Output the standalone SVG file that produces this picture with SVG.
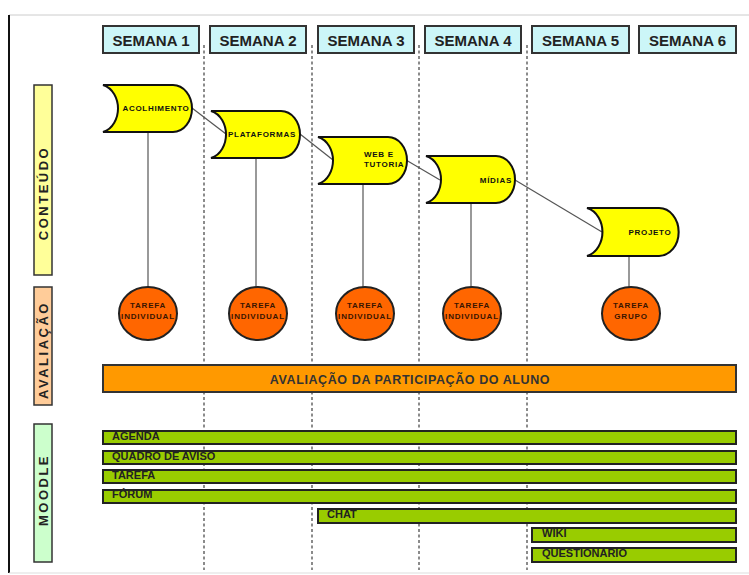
<svg xmlns="http://www.w3.org/2000/svg" width="749" height="575" viewBox="0 0 749 575">
<defs>
<style>
text{font-family:"Liberation Sans",Arial,sans-serif;font-weight:bold}
.hdr{fill:#ccf6f8;stroke:#333;stroke-width:2}
.hdrt{font-size:15px;fill:#222;text-anchor:middle}
.dash{stroke:#666;stroke-width:1.5;stroke-dasharray:3,2.5;fill:none}
.shape{fill:#ffff00;stroke:#111;stroke-width:2}
.st{font-size:8px;fill:#111;letter-spacing:0.7px}
.circ{fill:#ff6600;stroke:#222;stroke-width:2}
.ct{font-size:8px;fill:#3a1500;text-anchor:middle;letter-spacing:0.8px}
.conn{stroke:#555;stroke-width:1.2;fill:none}
.side{stroke:#333;stroke-width:1.5}
.sidet{font-size:13px;fill:#222;text-anchor:middle;letter-spacing:2.5px}
.gbar{fill:#99cc00;stroke:#222;stroke-width:2}
.gt{font-size:11px;fill:#222}
</style>
<path id="doc" d="M0,0 H70 A19,23.5 0 0 1 70,47 H0 C10,44 15,33 15,23.5 C15,14 10,3 0,0 Z"/>
</defs>
<rect x="0" y="0" width="749" height="575" fill="#fff"/>
<g id="frame">
<line x1="9" y1="15" x2="749" y2="15" stroke="#ccc" stroke-width="1"/>
<line x1="9" y1="15" x2="9" y2="573" stroke="#111" stroke-width="2"/>
<line x1="9" y1="573" x2="749" y2="573" stroke="#ddd" stroke-width="1"/>
</g>
<g id="dividers">
<line class="dash" x1="204" y1="45" x2="204" y2="570"/>
<line class="dash" x1="312" y1="45" x2="312" y2="570"/>
<line class="dash" x1="419" y1="45" x2="419" y2="570"/>
<line class="dash" x1="527" y1="45" x2="527" y2="570"/>
</g>
<g id="headers">
<g id="semana1"><rect class="hdr" x="103" y="26" width="96" height="27"/><text class="hdrt" x="151" y="46">SEMANA 1</text></g>
<g id="semana2"><rect class="hdr" x="210" y="26" width="96" height="27"/><text class="hdrt" x="258" y="46">SEMANA 2</text></g>
<g id="semana3"><rect class="hdr" x="318" y="26" width="96" height="27"/><text class="hdrt" x="366" y="46">SEMANA 3</text></g>
<g id="semana4"><rect class="hdr" x="425" y="26" width="96" height="27"/><text class="hdrt" x="473" y="46">SEMANA 4</text></g>
<g id="semana5"><rect class="hdr" x="532" y="26" width="97" height="27"/><text class="hdrt" x="580.5" y="46">SEMANA 5</text></g>
<g id="semana6"><rect class="hdr" x="639" y="26" width="97" height="27"/><text class="hdrt" x="687.5" y="46">SEMANA 6</text></g>
</g>
<g id="side-conteudo"><rect class="side" x="34" y="85" width="18" height="190" fill="#ffff99"/><text class="sidet" transform="translate(48,193) rotate(-90)">CONTEÚDO</text></g>
<g id="side-avaliacao"><rect class="side" x="34" y="287" width="18" height="118" fill="#ffcc99"/><text class="sidet" transform="translate(48,350) rotate(-90)">AVALIAÇÃO</text></g>
<g id="side-moodle"><rect class="side" x="34" y="424" width="18" height="138" fill="#ccffcc"/><text class="sidet" transform="translate(48,490) rotate(-90)">MOODLE</text></g>
<g id="connectors">
<line class="conn" x1="192" y1="108" x2="226" y2="134"/>
<line class="conn" x1="300" y1="134" x2="333" y2="160"/>
<line class="conn" x1="406" y1="160" x2="440" y2="180"/>
<line class="conn" x1="515" y1="180" x2="602" y2="232"/>
<line class="conn" x1="148" y1="132" x2="148" y2="287"/>
<line class="conn" x1="256" y1="157" x2="256" y2="287"/>
<line class="conn" x1="363" y1="183" x2="363" y2="287"/>
<line class="conn" x1="471" y1="203" x2="471" y2="287"/>
<line class="conn" x1="629" y1="256" x2="629" y2="287"/>
</g>
<g id="acolhimento"><use href="#doc" class="shape" transform="translate(103,85)"/><text class="st" x="156" y="111" text-anchor="middle">ACOLHIMENTO</text></g>
<g id="plataformas"><use href="#doc" class="shape" transform="translate(211,111)"/><text class="st" x="262" y="137" text-anchor="middle">PLATAFORMAS</text></g>
<g id="web-tutoria"><use href="#doc" class="shape" transform="translate(318,137)"/><text class="st" x="364" y="157">WEB E</text><text class="st" x="364" y="167">TUTORIA</text></g>
<g id="midias"><use href="#doc" class="shape" transform="translate(426,156)"/><text class="st" x="512" y="183" text-anchor="end">MÍDIAS</text></g>
<g id="projeto"><use href="#doc" class="shape" transform="translate(587,208) scale(1.03,1.02)"/><text class="st" x="650" y="235" text-anchor="middle">PROJETO</text></g>
<g id="tarefa1"><ellipse class="circ" cx="148" cy="313.5" rx="29" ry="26.5"/><text class="ct" x="148" y="307.5">TAREFA</text><text class="ct" x="148" y="318.5">INDIVIDUAL</text></g>
<g id="tarefa2"><ellipse class="circ" cx="258" cy="313.5" rx="29" ry="26.5"/><text class="ct" x="258" y="307.5">TAREFA</text><text class="ct" x="258" y="318.5">INDIVIDUAL</text></g>
<g id="tarefa3"><ellipse class="circ" cx="365" cy="313.5" rx="29" ry="26.5"/><text class="ct" x="365" y="307.5">TAREFA</text><text class="ct" x="365" y="318.5">INDIVIDUAL</text></g>
<g id="tarefa4"><ellipse class="circ" cx="472" cy="313.5" rx="29" ry="26.5"/><text class="ct" x="472" y="307.5">TAREFA</text><text class="ct" x="472" y="318.5">INDIVIDUAL</text></g>
<g id="tarefa5"><ellipse class="circ" cx="631" cy="313.5" rx="29" ry="26.5"/><text class="ct" x="631" y="307.5">TAREFA</text><text class="ct" x="631" y="318.5">GRUPO</text></g>
<g id="participacao"><rect x="103" y="365" width="633" height="27" fill="#ff9900" stroke="#333" stroke-width="2"/><text x="410" y="384" font-size="12.5" fill="#333" text-anchor="middle" letter-spacing="0.6">AVALIAÇÃO DA PARTICIPAÇÃO DO ALUNO</text></g>
<g id="agenda"><rect class="gbar" x="103" y="431" width="633" height="13"/><text class="gt" x="112" y="440">AGENDA</text></g>
<g id="quadro"><rect class="gbar" x="103" y="451" width="633" height="13"/><text class="gt" x="112" y="460">QUADRO DE AVISO</text></g>
<g id="tarefa"><rect class="gbar" x="103" y="470" width="633" height="13"/><text class="gt" x="112" y="479">TAREFA</text></g>
<g id="forum"><rect class="gbar" x="103" y="490" width="633" height="13"/><text class="gt" x="112" y="498">FÓRUM</text></g>
<g id="chat"><rect class="gbar" x="318" y="509" width="418" height="14"/><text class="gt" x="327" y="518">CHAT</text></g>
<g id="wiki"><rect class="gbar" x="532" y="528" width="204" height="14"/><text class="gt" x="542" y="537">WIKI</text></g>
<g id="questionario"><rect class="gbar" x="532" y="548" width="204" height="14"/><text class="gt" x="542" y="557">QUESTIONÁRIO</text></g>
</svg>
